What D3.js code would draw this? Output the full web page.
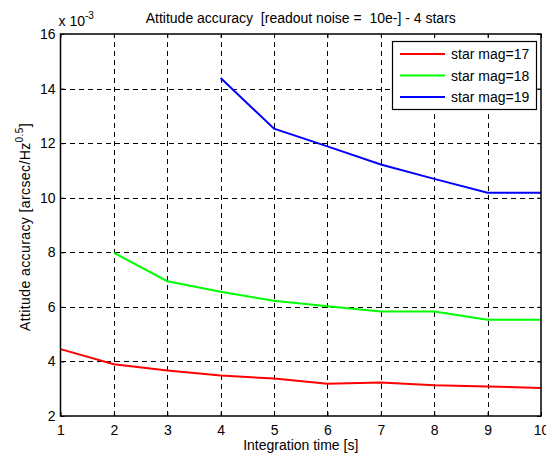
<!DOCTYPE html>
<html>
<head>
<meta charset="utf-8">
<script src="https://cdn.jsdelivr.net/npm/d3@7"></script>
<style>
  html, body { margin: 0; padding: 0; background: #fff; }
  svg { display: block; font-family: "Liberation Sans", Arial, sans-serif; }
  text { white-space: pre; }
</style>
</head>
<body>
<svg id="chart" width="546" height="455"></svg>
<script>
// Integration time [s]
const integrationTime = [1, 2, 3, 4, 5, 6, 7, 8, 9, 10];

// Attitude accuracy (x 10^-3 arcsec/Hz^0.5) per star magnitude
const mag17 = [4.45, 3.90, 3.67, 3.48, 3.37, 3.18, 3.23, 3.13, 3.08, 3.03];
const mag18 = [null, 7.98, 6.94, 6.55, 6.22, 6.02, 5.83, 5.83, 5.53, 5.53];
const mag19 = [null, null, null, 14.39, 12.53, 11.88, 11.22, 10.69, 10.18, 10.18];

const seriesNames = ["star mag=17", "star mag=18", "star mag=19"];
const seriesColors = ["#ff0000", "#00ff00", "#0000ff"];
const xTicks = [1, 2, 3, 4, 5, 6, 7, 8, 9, 10];
const yTicks = [2, 4, 6, 8, 10, 12, 14, 16];

const svg = d3.select("#chart");
const plotL = 60.5, plotR = 541, plotT = 34, plotB = 416;
const fontPx = "14px";

const x = d3.scaleLinear().domain([1, 10]).range([plotL, plotR]);
const y = d3.scaleLinear().domain([2, 16]).range([plotB, plotT]);

// Dashed grid
const grid = svg.append("g").attr("stroke", "#000").attr("stroke-width", 1)
  .attr("stroke-dasharray", "5,4").attr("shape-rendering", "crispEdges");
grid.selectAll(".gx").data(xTicks.slice(1, -1)).join("line")
  .attr("x1", d => Math.round(x(d)) + 0.5).attr("x2", d => Math.round(x(d)) + 0.5)
  .attr("y1", plotB).attr("y2", plotT);
grid.selectAll(".gy").data(yTicks.slice(1, -1)).join("line")
  .attr("y1", d => Math.round(y(d)) + 0.5).attr("y2", d => Math.round(y(d)) + 0.5)
  .attr("x1", plotL).attr("x2", plotR);

// Data lines
const series = [mag17, mag18, mag19];
const line = d3.line()
  .defined(d => d[1] != null)
  .x(d => x(d[0])).y(d => y(d[1]));
series.forEach((vals, i) => {
  svg.append("path")
    .datum(integrationTime.map((t, j) => [t, vals[j]]))
    .attr("fill", "none")
    .attr("stroke", seriesColors[i])
    .attr("stroke-width", 2)
    .attr("d", line);
});

// Axes with inward ticks on all four sides
const tickLen = 4;
const axB = d3.axisBottom(x).tickValues(xTicks).tickSize(-tickLen).tickPadding(9).tickFormat(d3.format("d"));
const axT = d3.axisTop(x).tickValues(xTicks).tickSize(-tickLen).tickFormat("");
const axL = d3.axisLeft(y).tickValues(yTicks).tickSize(-tickLen).tickPadding(5).tickFormat(d3.format("d"));
const axR = d3.axisRight(y).tickValues(yTicks).tickSize(-tickLen).tickFormat("");

function style(g) {
  g.select(".domain").remove();
  g.selectAll(".tick line").attr("stroke", "#000").attr("stroke-width", 1);
  g.selectAll(".tick text").attr("fill", "#000").style("font-size", fontPx)
    .style("font-family", "Liberation Sans, Arial, sans-serif");
}
svg.append("g").attr("transform", `translate(0,${plotB})`).call(axB).call(style);
svg.append("g").attr("transform", `translate(0,${plotT})`).call(axT).call(style);
svg.append("g").attr("transform", `translate(${plotL},0)`).call(axL).call(style);
svg.append("g").attr("transform", `translate(${plotR},0)`).call(axR).call(style);

// Axes box
svg.append("rect")
  .attr("x", plotL).attr("y", plotT).attr("width", plotR - plotL).attr("height", plotB - plotT)
  .attr("fill", "none").attr("stroke", "#000").attr("stroke-width", 1.5);

// Title
svg.append("text")
  .attr("x", (plotL + plotR) / 2).attr("y", 23).attr("text-anchor", "middle")
  .style("font-size", fontPx).text("Attitude accuracy  [readout noise =  10e-] - 4 stars");

// Exponent label
const ex = svg.append("text").attr("x", plotL - 2).attr("y", 26).style("font-size", fontPx);
ex.append("tspan").text("x 10");
ex.append("tspan").attr("dy", -7).style("font-size", "10px").text("-3");

// Axis labels
svg.append("text")
  .attr("x", (plotL + plotR) / 2).attr("y", 450).attr("text-anchor", "middle")
  .style("font-size", fontPx).text("Integration time [s]");

const yl = svg.append("text")
  .attr("transform", `translate(30,227) rotate(-90)`)
  .attr("text-anchor", "middle").style("font-size", fontPx).style("letter-spacing", "0.4px");
yl.append("tspan").text("Attitude accuracy [arcsec/Hz");
yl.append("tspan").attr("dy", -7).style("font-size", "10px").text("0.5");
yl.append("tspan").attr("dy", 7).text("]");

// Legend
const lg = svg.append("g");
lg.append("rect").attr("x", 392.5).attr("y", 41.5).attr("width", 144).attr("height", 68)
  .attr("fill", "#fff").attr("stroke", "#000").attr("stroke-width", 1.2);
seriesNames.forEach((name, i) => {
  const yy = 54 + i * 21.5;
  lg.append("line").attr("x1", 400).attr("x2", 445).attr("y1", yy).attr("y2", yy)
    .attr("stroke", seriesColors[i]).attr("stroke-width", 2);
  lg.append("text").attr("x", 451).attr("y", yy + 5).style("font-size", fontPx).text(name);
});
</script>
</body>
</html>
